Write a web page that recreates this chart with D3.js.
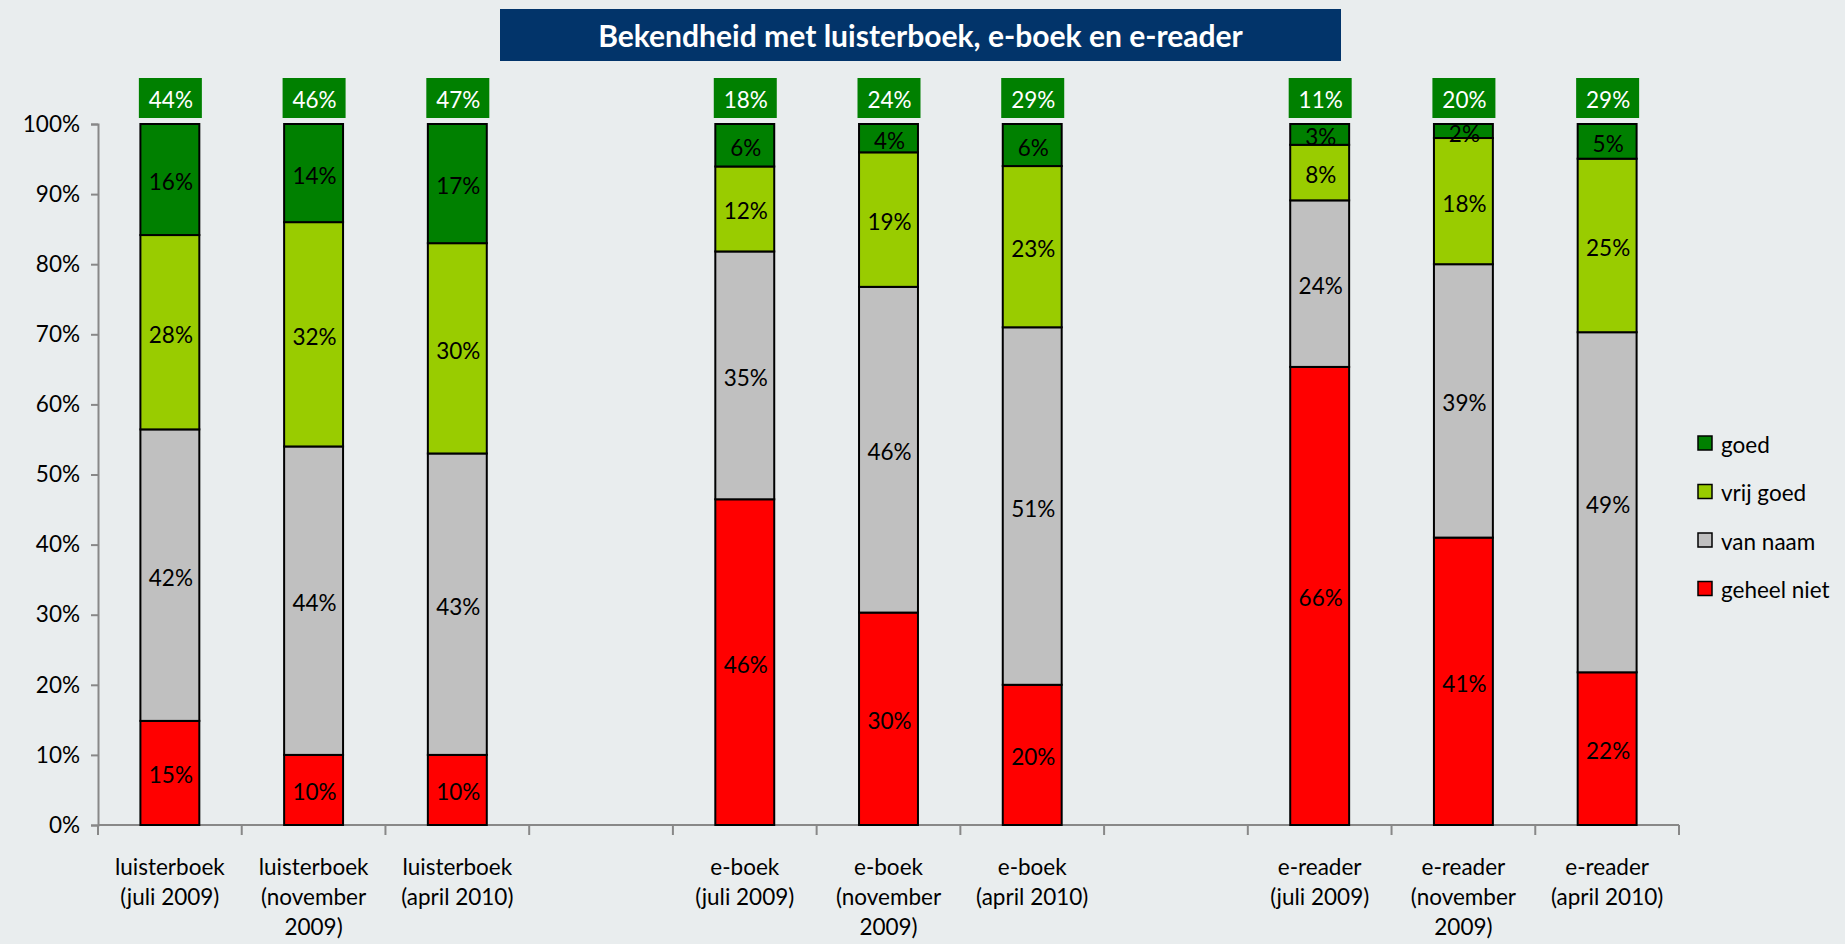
<!DOCTYPE html>
<html><head><meta charset="utf-8">
<script src="https://cdn.jsdelivr.net/npm/d3@7"></script>
<style>
html,body{margin:0;padding:0;background:#E9EDEE;}
svg{display:block;}
text{font-family:Lato,"Noto Sans",sans-serif;}
</style></head>
<body>
<svg id="chart" width="1845" height="944"></svg>
<script>
const title = "Bekendheid met luisterboek, e-boek en e-reader";
const categories = [
  "luisterboek (juli 2009)", "luisterboek (november 2009)", "luisterboek (april 2010)", "",
  "e-boek (juli 2009)", "e-boek (november 2009)", "e-boek (april 2010)", " ",
  "e-reader (juli 2009)", "e-reader (november 2009)", "e-reader (april 2010)"
];
const seriesNames = ["geheel niet", "van naam", "vrij goed", "goed"];
const geheelNiet = [15, 10, 10, null, 46, 30, 20, null, 66, 41, 22];
const vanNaam    = [42, 44, 43, null, 35, 46, 51, null, 24, 39, 49];
const vrijGoed   = [28, 32, 30, null, 12, 19, 23, null, 8, 18, 25];
const goed       = [16, 14, 17, null, 6, 4, 6, null, 3, 2, 5];
const bekendTotal = [44, 46, 47, null, 18, 24, 29, null, 11, 20, 29];
const yTicks = [0, 0.1, 0.2, 0.3, 0.4, 0.5, 0.6, 0.7, 0.8, 0.9, 1.0];
const colors = {"geheel niet":"#FF0000","van naam":"#C0C0C0","vrij goed":"#99CC00","goed":"#008000"};

const FS = 22.5;
const svg = d3.select("#chart");
const x0 = 98, x1 = 1679, yTop = 124, yBot = 825;

const x = d3.scaleBand().domain(categories).range([x0, x1]).paddingInner(0.59).paddingOuter(0.295);
const y = d3.scaleLinear().domain([0, 1]).range([yBot, yTop]);

const rows = categories.map((c, i) => ({
  cat: c, "geheel niet": geheelNiet[i], "van naam": vanNaam[i], "vrij goed": vrijGoed[i], "goed": goed[i], total: bekendTotal[i]
})).filter(r => r["geheel niet"] != null);

const stack = d3.stack().keys(seriesNames).offset(d3.stackOffsetExpand);
const stacked = stack(rows);

// title
const tg = svg.append("g");
tg.append("rect").attr("x", 500).attr("y", 9).attr("width", 841).attr("height", 52).attr("fill", "#02346A");
const tt = tg.append("text").attr("x", 920.5).attr("y", 35).attr("text-anchor", "middle")
  .attr("dominant-baseline", "central").attr("fill", "#fff").attr("font-weight", "bold")
  .attr("font-size", 24).text(title);
const tw = tt.node().getComputedTextLength();
tt.attr("font-size", 24 * 645 / tw);

// y axis
const yAxis = d3.axisLeft(y).tickValues(yTicks).tickFormat(d3.format(".0%")).tickSize(7).tickPadding(11);
const ya = svg.append("g").attr("transform", `translate(${x0},0)`).call(yAxis);
ya.select(".domain").attr("stroke", "#888").attr("stroke-width", 2);
ya.selectAll(".tick line").attr("stroke", "#888").attr("stroke-width", 2);
ya.selectAll(".tick text").attr("font-size", FS).attr("fill", "#000").attr("font-family", "Lato,'Noto Sans',sans-serif");

// x axis baseline and ticks at band boundaries
const step = x.step();
const xa = svg.append("g");
xa.append("line").attr("x1", x0).attr("x2", x1).attr("y1", yBot).attr("y2", yBot).attr("stroke", "#888").attr("stroke-width", 2);
d3.range(categories.length + 1).forEach(i => {
  const xx = x0 + i * step;
  xa.append("line").attr("x1", xx).attr("x2", xx).attr("y1", yBot).attr("y2", yBot + 10).attr("stroke", "#888").attr("stroke-width", 2);
});

// category labels (product on first line, period wrapped after)
const measure = svg.append("text").attr("font-size", FS).attr("visibility", "hidden");
function wrap(str, maxW) {
  const k = str.indexOf(" (");
  const head = k >= 0 ? str.slice(0, k) : str;
  const rest = k >= 0 ? str.slice(k + 1) : "";
  const lines = [head]; let cur = "";
  rest.split(" ").filter(w => w).forEach(w => {
    const t = cur ? cur + " " + w : w;
    measure.text(t);
    if (measure.node().getComputedTextLength() > maxW && cur) { lines.push(cur); cur = w; } else cur = t;
  });
  if (cur) lines.push(cur);
  return lines;
}
rows.forEach(r => {
  const cx = x(r.cat) + x.bandwidth() / 2;
  const lines = wrap(r.cat, 128);
  const t = svg.append("text").attr("text-anchor", "middle").attr("font-size", FS).attr("fill", "#000");
  lines.forEach((l, i) => t.append("tspan").attr("x", cx).attr("y", 875 + i * 30).text(l));
});
measure.remove();

// bars
const bars = svg.append("g");
stacked.forEach(s => {
  bars.selectAll(null).data(s).enter().append("rect")
    .attr("x", d => x(d.data.cat))
    .attr("width", x.bandwidth())
    .attr("y", d => y(d[1]))
    .attr("height", d => y(d[0]) - y(d[1]))
    .attr("fill", colors[s.key])
    .attr("stroke", "#000").attr("stroke-width", 2);
});
stacked.forEach(s => {
  bars.selectAll(null).data(s).enter().append("text")
    .attr("x", d => x(d.data.cat) + x.bandwidth() / 2 + 1)
    .attr("y", d => (y(d[0]) + y(d[1])) / 2 + 2)
    .attr("text-anchor", "middle").attr("dominant-baseline", "central")
    .attr("font-size", FS).attr("fill", "#000")
    .text(d => d.data[s.key] + "%");
});

// top total labels
const tl = svg.append("g");
rows.forEach(r => {
  const cx = x(r.cat) + x.bandwidth() / 2;
  tl.append("rect").attr("x", cx - 31).attr("y", 78).attr("width", 63).attr("height", 40).attr("fill", "#008000");
  tl.append("text").attr("x", cx + 1).attr("y", 99).attr("text-anchor", "middle").attr("dominant-baseline", "central")
    .attr("font-size", FS).attr("fill", "#fff").text(r.total + "%");
});

// legend
const legendOrder = ["goed", "vrij goed", "van naam", "geheel niet"];
const lg = svg.append("g");
legendOrder.forEach((k, i) => {
  const cy = 443 + i * 48.5;
  lg.append("rect").attr("x", 1698).attr("y", cy - 7).attr("width", 14).attr("height", 14)
    .attr("fill", colors[k]).attr("stroke", "#000").attr("stroke-width", 1.5);
  lg.append("text").attr("x", 1721).attr("y", cy + 1).attr("dominant-baseline", "central")
    .attr("font-size", FS).attr("fill", "#000").text(k);
});
</script>
</body></html>
